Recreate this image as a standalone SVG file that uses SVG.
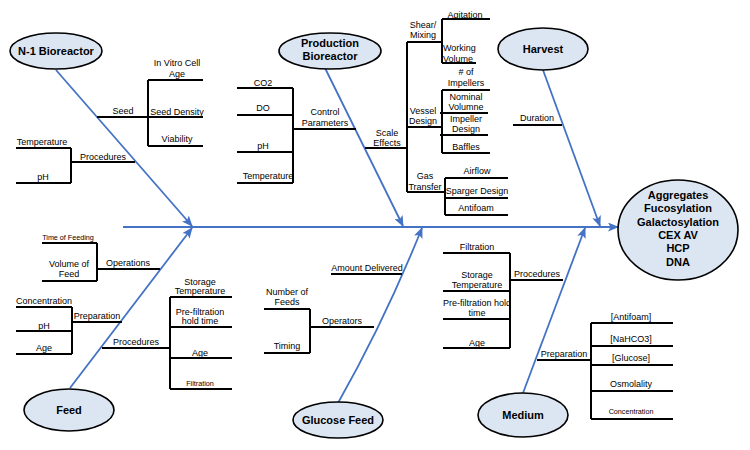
<svg xmlns="http://www.w3.org/2000/svg" width="750" height="450" viewBox="0 0 750 450">
<defs>
<marker id="ah" markerUnits="userSpaceOnUse" markerWidth="11" markerHeight="9" refX="10" refY="4.5" orient="auto">
<path d="M0,0 L11,4.5 L0,9 L2.5,4.5 z" fill="#4472C4"/>
</marker>
<style>
.ar{stroke:#4472C4;stroke-width:1.8;fill:none;marker-end:url(#ah)}
.br{stroke:#000;stroke-width:2;fill:none}
.nd{fill:#DCE6F2;stroke:#000;stroke-width:1.6}
text{font-family:"Liberation Sans",Arial,sans-serif;fill:#000}
.t{font-size:9px;text-anchor:middle}
.tl{font-size:9px;text-anchor:start}
.ts{font-size:7.2px;text-anchor:middle}
.nt{font-size:11px;font-weight:bold;text-anchor:middle}
</style>
</defs>
<rect width="750" height="450" fill="#fff"/>

<g id="connectors">
<path class="ar" d="M123,227 L618,227"/>
<path class="ar" d="M56,70 L192,226"/>
<path class="ar" d="M325,68 L403,226"/>
<path class="ar" d="M543,70 L600,226"/>
<path class="ar" d="M70,388 L192,228"/>
<path class="ar" d="M338,403 Q385,320 422,228"/>
<path class="ar" d="M523,393 L585,228"/>
</g>

<g id="branches">
<!-- N-1 -->
<path class="br" d="M97,117 H148 M148,80 V146 M148,80 H203 M148,117 H203 M148,146 H203"/>
<path class="br" d="M71,162 H135 M71,148 V183 M16,148 H71 M16,183 H71"/>
<!-- Production -->
<path class="br" d="M237,88 H293 M237,115 H293 M237,152 H293 M237,183 H293 M293,88 V183 M293,129 H356"/>
<path class="br" d="M365,148 H407 M407,42 V192 M407,42 H442 M442,19 V63 M442,19 H490 M442,63 H476"/>
<path class="br" d="M407,127 H442 M442,90 V153 M442,90 H490 M440,113 H488 M440,135 H488 M442,153 H490"/>
<path class="br" d="M407,192 H445 M445,178 V215 M445,178 H508 M445,198 H508 M445,215 H508"/>
<!-- Harvest -->
<path class="br" d="M513,125 H562"/>
<!-- Feed -->
<path class="br" d="M97,269 H160 M97,243 V281 M42,243 H97 M42,281 H97"/>
<path class="br" d="M72,322 H122 M72,307 V354 M16,307 H72 M16,331 H72 M16,354 H72"/>
<path class="br" d="M102,348 H170 M170,297 V389 M170,297 H232 M170,327 H232 M170,358 H232 M170,389 H232"/>
<!-- Glucose Feed -->
<path class="br" d="M331,274 H402"/>
<path class="br" d="M310,327 H374 M310,309 V353 M264,309 H310 M264,353 H310"/>
<!-- Medium -->
<path class="br" d="M510,280 H563 M510,253 V348 M443,253 H510 M443,291 H510 M443,319 H510 M443,348 H510"/>
<path class="br" d="M537,360 H591 M591,323 V419 M591,323 H673 M591,346 H673 M591,365 H673 M591,391 H673 M591,419 H673"/>
</g>

<g id="n1-bioreactor">
<ellipse class="nd" cx="56" cy="51" rx="46" ry="18"/>
<text class="nt" x="56" y="55">N-1 Bioreactor</text>
</g>
<g id="production-bioreactor">
<ellipse class="nd" cx="330" cy="51" rx="51" ry="18"/>
<text class="nt" x="330" y="47">Production</text>
<text class="nt" x="330" y="60">Bioreactor</text>
</g>
<g id="harvest">
<ellipse class="nd" cx="543" cy="49" rx="45" ry="21"/>
<text class="nt" x="543" y="53">Harvest</text>
</g>
<g id="feed">
<ellipse class="nd" cx="69" cy="410" rx="45" ry="21"/>
<text class="nt" x="69" y="414">Feed</text>
</g>
<g id="glucose-feed">
<ellipse class="nd" cx="338" cy="420" rx="45" ry="18"/>
<text class="nt" x="338" y="424">Glucose Feed</text>
</g>
<g id="medium">
<ellipse class="nd" cx="523" cy="415" rx="45" ry="22"/>
<text class="nt" x="523" y="419">Medium</text>
</g>
<g id="effect">
<ellipse class="nd" cx="678" cy="230" rx="60" ry="50"/>
<text class="nt" x="678" y="199">Aggregates</text>
<text class="nt" x="678" y="212">Fucosylation</text>
<text class="nt" x="678" y="226">Galactosylation</text>
<text class="nt" x="678" y="239">CEX AV</text>
<text class="nt" x="678" y="252">HCP</text>
<text class="nt" x="678" y="266">DNA</text>
</g>

<g id="labels-n1">
<text class="t" x="123" y="114">Seed</text>
<text class="t" x="177" y="66">In Vitro Cell</text>
<text class="t" x="177" y="77">Age</text>
<text class="t" x="177" y="115">Seed Density</text>
<text class="t" x="177" y="142">Viability</text>
<text class="t" x="103" y="160">Procedures</text>
<text class="t" x="42" y="145">Temperature</text>
<text class="t" x="43" y="180">pH</text>
</g>
<g id="labels-production">
<text class="t" x="263" y="86">CO2</text>
<text class="t" x="263" y="111">DO</text>
<text class="t" x="263" y="149">pH</text>
<text class="t" x="268" y="179">Temperature</text>
<text class="t" x="325" y="115">Control</text>
<text class="t" x="325" y="126">Parameters</text>
<text class="t" x="387" y="136">Scale</text>
<text class="t" x="387" y="146">Effects</text>
<text class="t" x="423" y="28">Shear/</text>
<text class="t" x="423" y="38">Mixing</text>
<text class="t" x="465" y="18">Agitation</text>
<text class="tl" x="443" y="51">Working</text>
<text class="tl" x="443" y="62">Volume</text>
<text class="t" x="423" y="114">Vessel</text>
<text class="t" x="423" y="124">Design</text>
<text class="t" x="466" y="75"># of</text>
<text class="t" x="466" y="86">Impellers</text>
<text class="t" x="466" y="100">Nominal</text>
<text class="t" x="466" y="110">Volumne</text>
<text class="t" x="466" y="122">Impeller</text>
<text class="t" x="466" y="132">Design</text>
<text class="t" x="466" y="150">Baffles</text>
<text class="t" x="425" y="179">Gas</text>
<text class="t" x="425" y="190">Transfer</text>
<text class="t" x="477" y="174">Airflow</text>
<text class="t" x="477" y="194">Sparger Design</text>
<text class="t" x="476" y="211">Antifoam</text>
</g>
<g id="labels-harvest">
<text class="t" x="537" y="121">Duration</text>
</g>
<g id="labels-feed">
<text class="ts" x="68" y="240">Time of Feeding</text>
<text class="t" x="69" y="267">Volume of</text>
<text class="t" x="69" y="277">Feed</text>
<text class="t" x="128" y="266">Operations</text>
<text class="t" x="44" y="304">Concentration</text>
<text class="t" x="44" y="329">pH</text>
<text class="t" x="44" y="351">Age</text>
<text class="t" x="97" y="319">Preparation</text>
<text class="t" x="136" y="345">Procedures</text>
<text class="t" x="200" y="285">Storage</text>
<text class="t" x="200" y="294">Temperature</text>
<text class="t" x="200" y="315">Pre-filtration</text>
<text class="t" x="200" y="324">hold time</text>
<text class="t" x="200" y="356">Age</text>
<text class="ts" x="200" y="386">Filtration</text>
</g>
<g id="labels-glucose">
<text class="t" x="367" y="271">Amount Delivered</text>
<text class="t" x="342" y="324">Operators</text>
<text class="t" x="287" y="295">Number of</text>
<text class="t" x="287" y="305">Feeds</text>
<text class="t" x="287" y="349">Timing</text>
</g>
<g id="labels-medium">
<text class="t" x="477" y="250">Filtration</text>
<text class="t" x="477" y="278">Storage</text>
<text class="t" x="477" y="288">Temperature</text>
<text class="t" x="477" y="306">Pre-filtration hold</text>
<text class="t" x="477" y="316">time</text>
<text class="t" x="477" y="346">Age</text>
<text class="t" x="537" y="277">Procedures</text>
<text class="t" x="564" y="357">Preparation</text>
<text class="t" x="631" y="320">[Antifoam]</text>
<text class="t" x="631" y="342">[NaHCO3]</text>
<text class="t" x="631" y="361">[Glucose]</text>
<text class="t" x="631" y="387">Osmolality</text>
<text class="ts" x="631" y="414">Concentration</text>
</g>
</svg>
